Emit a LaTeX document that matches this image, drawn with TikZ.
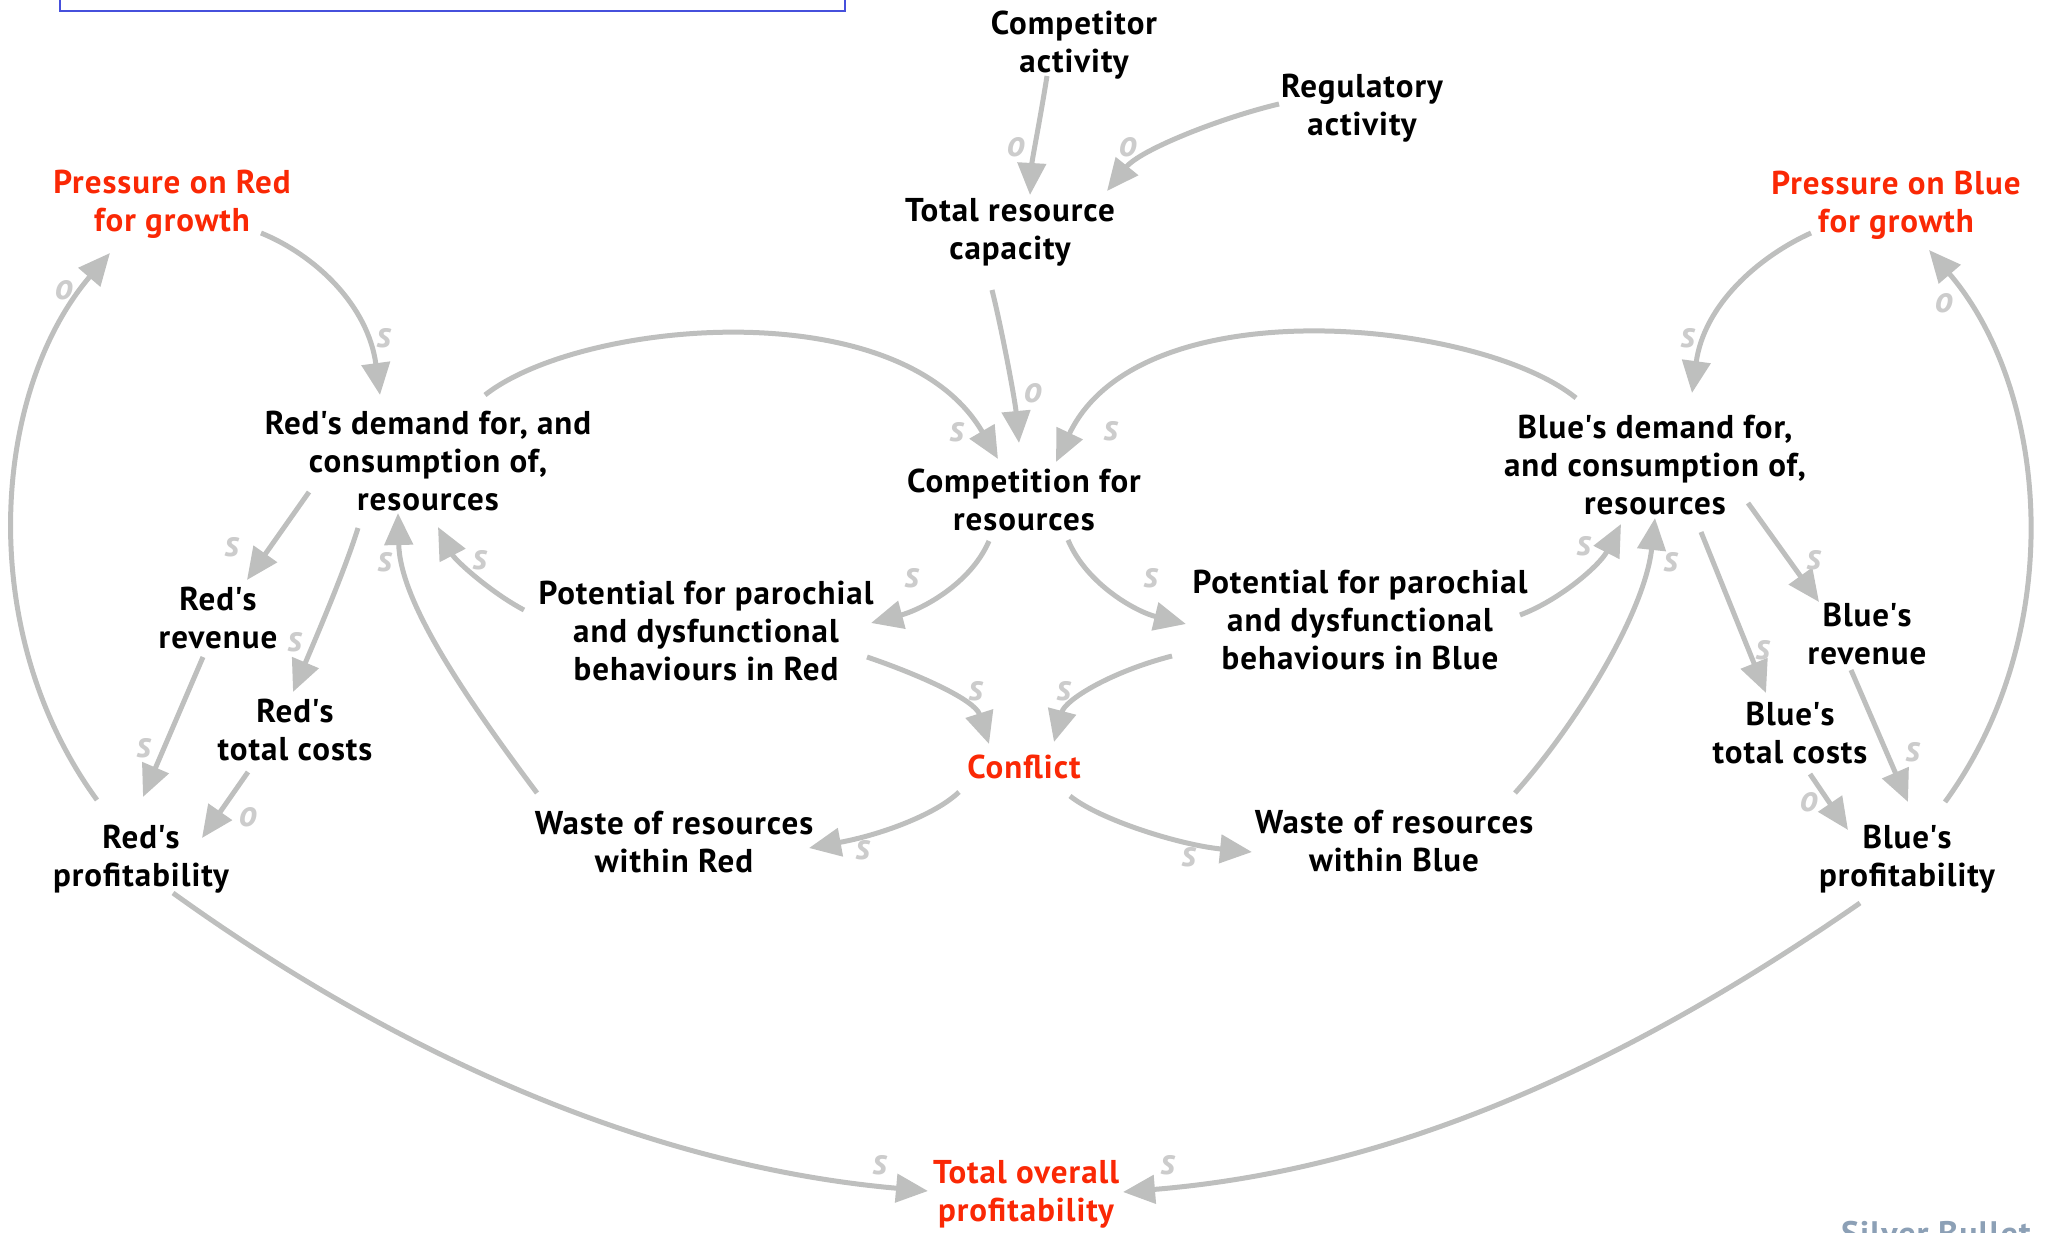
\documentclass[tikz,border=0pt]{standalone}
\usepackage{fontspec}
\setmainfont{PT Sans}[LetterSpace=3]
\usetikzlibrary{arrows.meta,calc}
\definecolor{lnk}{RGB}{190,191,190}
\definecolor{labc}{RGB}{204,204,204}
\definecolor{redt}{RGB}{250,40,5}
\definecolor{boxblue}{RGB}{70,80,220}
\definecolor{silver}{RGB}{140,160,182}
\newcommand{\ap}{\textquotesingle}
\begin{document}
\begin{tikzpicture}[x=1pt,y=-1pt,
  txt/.style={font=\fontsize{33}{38}\selectfont\bfseries, align=center, inner sep=0pt, text=black},
  hot/.style={txt, text=redt},
  link/.style={draw=lnk, line width=5pt, -{Triangle[length=32pt,width=28pt]}},
  lab/.style={font=\fontsize{37}{37}\selectfont\bfseries\itshape, text=labc, inner sep=0pt}]
\useasboundingbox (0,0) rectangle (2048,1233);
\draw[boxblue, line width=2.5pt] (60,-20) rectangle (845,11);

\node[txt] (ca) at (1074,45) {Competitor\\activity};
\node[txt] (ra) at (1362,108) {Regulatory\\activity};
\node[txt] (trc) at (1010,232) {Total resource\\capacity};
\node[hot] (prr) at (172,204) {Pressure on Red\\for growth};
\node[hot] (prb) at (1896,205) {Pressure on Blue\\for growth};
\node[txt] (rd) at (428,461) {Red\ap s demand for, and\\consumption of,\\resources};
\node[txt] (cr) at (1024,500) {Competition for\\resources};
\node[txt] (bd) at (1655,465) {Blue\ap s demand for,\\and consumption of,\\resources};
\node[txt] (rrev) at (218,618) {Red\ap s\\revenue};
\node[txt] (rtc) at (295,730) {Red\ap s\\total costs};
\node[txt] (rprof) at (141,859) {Red\ap s\\profitability};
\node[txt] (pr) at (706,631) {Potential for parochial\\and dysfunctional\\behaviours in Red};
\node[txt] (pb) at (1360,620) {Potential for parochial\\and dysfunctional\\behaviours in Blue};
\node[hot] (conf) at (1024,767) {Conflict};
\node[txt] (wr) at (674,842) {Waste of resources\\within Red};
\node[txt] (wb) at (1394,841) {Waste of resources\\within Blue};
\node[txt] (brev) at (1867,634) {Blue\ap s\\revenue};
\node[txt] (btc) at (1790,733) {Blue\ap s\\total costs};
\node[txt] (bprof) at (1907,859) {Blue\ap s\\profitability};
\node[hot] (tot) at (1026,1194) {Total overall\\profitability};
\node[font=\fontsize{34}{34}\selectfont\bfseries, text=silver, anchor=base, inner sep=0pt] (sb) at (1936,1245) {Silver Bullet};

\draw[link] ($(ca)+(-27,31)$) .. controls (1040,120) and (1032,160) .. ($(trc)+(20,-37)$);
\draw[link] ($(ra)+(-83,-4)$) .. controls (1220,118) and (1140,150) .. ($(trc)+(97,-41)$);
\draw[link] ($(trc)+(-18,58)$) .. controls (1002,330) and (1015,400) .. ($(cr)+(-5,-57)$);
\draw[link] ($(prr)+(89,29)$) .. controls (315,255) and (368,305) .. ($(rd)+(-48,-66)$);
\draw[link] ($(rprof)+(-44,-59)$) .. controls (-27,630) and (-7,390) .. ($(prr)+(-62,49)$);
\draw[link] ($(rd)+(57,-66)$) .. controls (580,320) and (900,290) .. ($(cr)+(-26,-41)$);
\draw[link] ($(bd)+(-79,-67)$) .. controls (1480,320) and (1140,285) .. ($(cr)+(32,-38)$);
\draw[link] ($(prb)+(-85,28)$) .. controls (1758,257) and (1704,305) .. ($(bd)+(37,-72)$);
\draw[link] ($(bprof)+(38,-57)$) .. controls (2069,632) and (2049,390) .. ($(prb)+(33,45)$);
\draw[link] ($(rd)+(-119,31)$) -- ($(rrev)+(29,-38)$);
\draw[link] ($(rd)+(-70,67)$) .. controls (345,570) and (315,640) .. ($(rtc)+(-2,-38)$);
\draw[link] ($(rrev)+(-15,39)$) -- ($(rprof)+(2,-62)$);
\draw[link] ($(rtc)+(-47,42)$) -- ($(rprof)+(61,-21)$);
\draw[link] ($(pr)+(-182,-21)$) .. controls (490,592) and (455,560) .. ($(rd)+(10,66)$);
\draw[link] ($(wr)+(-137,-49)$) .. controls (460,690) and (400,600) .. ($(rd)+(-30,52)$);
\draw[link] ($(cr)+(-35,41)$) .. controls (970,585) and (920,610) .. ($(pr)+(165,-8)$);
\draw[link] ($(cr)+(44,40)$) .. controls (1087,585) and (1137,612) .. ($(pb)+(-174,4)$);
\draw[link] ($(pr)+(161,26)$) .. controls (920,675) and (975,700) .. ($(conf)+(-35,-23)$);
\draw[link] ($(pb)+(-188,36)$) .. controls (1110,672) and (1065,700) .. ($(conf)+(30,-25)$);
\draw[link] ($(conf)+(-65,25)$) .. controls (935,815) and (880,835) .. ($(wr)+(135,6)$);
\draw[link] ($(conf)+(46,29)$) .. controls (1100,820) and (1180,845) .. ($(wb)+(-142,11)$);
\draw[link] ($(pb)+(160,-5)$) .. controls (1560,600) and (1600,565) .. ($(bd)+(-34,59)$);
\draw[link] ($(wb)+(121,-48)$) .. controls (1580,720) and (1645,610) .. ($(bd)+(0,53)$);
\draw[link] ($(bd)+(93,38)$) -- ($(brev)+(-48,-32)$);
\draw[link] ($(bd)+(46,67)$) -- ($(btc)+(-24,-40)$);
\draw[link] ($(brev)+(-16,36)$) -- ($(bprof)+(1,-57)$);
\draw[link] ($(btc)+(20,41)$) -- ($(bprof)+(-59,-29)$);
\draw[link] ($(rprof)+(32,34)$) .. controls (440,1085) and (690,1170) .. ($(tot)+(-98,-3)$);
\draw[link] ($(bprof)+(-47,44)$) .. controls (1590,1090) and (1365,1172) .. ($(tot)+(97,-2)$);

\node[lab] (l1) at (1016,147) {o};
\node[lab] (l2) at (1128,147) {o};
\node[lab] (l3) at (1033,393) {o};
\node[lab] (l4) at (384,338) {s};
\node[lab] (l5) at (64,290) {o};
\node[lab] (l6) at (957,432) {s};
\node[lab] (l7) at (1111,431) {s};
\node[lab] (l8) at (1688,338) {s};
\node[lab] (l9) at (1944,303) {o};
\node[lab] (l10) at (232,547) {s};
\node[lab] (l11) at (295,642) {s};
\node[lab] (l12) at (144,748) {s};
\node[lab] (l13) at (248,817) {o};
\node[lab] (l14) at (480,560) {s};
\node[lab] (l15) at (385,562) {s};
\node[lab] (l16) at (912,578) {s};
\node[lab] (l17) at (1151,578) {s};
\node[lab] (l18) at (976,691) {s};
\node[lab] (l19) at (1064,691) {s};
\node[lab] (l20) at (863,850) {s};
\node[lab] (l21) at (1189,857) {s};
\node[lab] (l22) at (1584,546) {s};
\node[lab] (l23) at (1671,562) {s};
\node[lab] (l24) at (1814,560) {s};
\node[lab] (l25) at (1763,650) {s};
\node[lab] (l26) at (1913,752) {s};
\node[lab] (l27) at (1809,802) {o};
\node[lab] (l28) at (880,1165) {s};
\node[lab] (l29) at (1168,1165) {s};
\end{tikzpicture}
\end{document}
